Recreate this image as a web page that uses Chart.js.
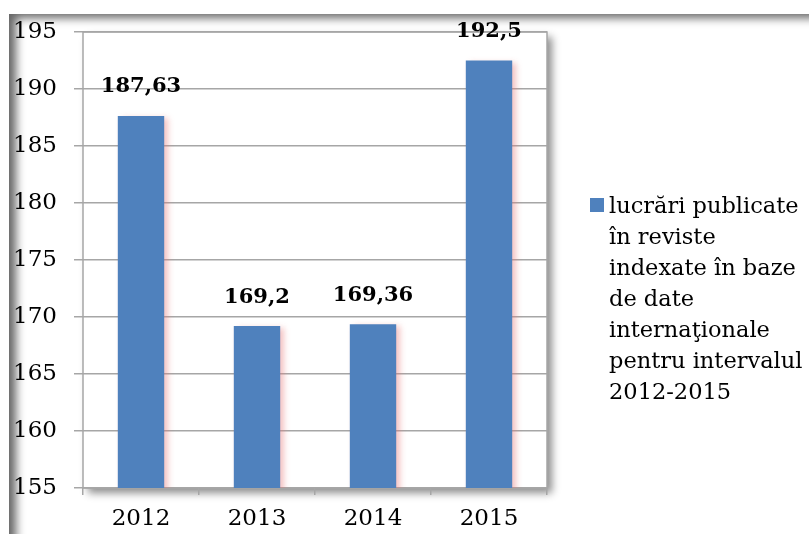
<!DOCTYPE html>
<html>
<head>
<meta charset="utf-8">
<script src="https://cdn.jsdelivr.net/npm/chart.js@4.4.0/dist/chart.umd.min.js"></script>
<style>
    html, body { margin: 0; padding: 0; background: #fff; }
    #wrap { position: relative; width: 809px; height: 534px; overflow: hidden; }
    #frame {
        position: absolute; left: 9px; top: 14px; width: 820px; height: 540px;
        box-shadow: inset 10px 7px 10px -3px rgba(0, 0, 0, 0.6);
        pointer-events: none;
    }
    canvas { position: absolute; left: 0; top: 0; }
    #legend {
        position: absolute; left: 590px; top: 190px;
        font-family: "DejaVu Serif", serif; font-size: 22.5px; line-height: 31px; color: #000;
    }
    #legend .box {
        position: absolute; left: 0; top: 8px; width: 14px; height: 14px; background: #4F81BD;
    }
    #legend .txt { margin-left: 19px; white-space: nowrap; }
</style>
</head>
<body>
<div id="wrap">
    <div id="frame"></div>
    <canvas id="chart" width="809" height="534"></canvas>
    <div id="legend"><span class="box"></span><div class="txt">lucrări publicate<br>în reviste<br>indexate în baze<br>de date<br>internaţionale<br>pentru intervalul<br>2012-2015</div></div>
</div>
<script>
const years = ['2012', '2013', '2014', '2015'];
const values = [187.63, 169.2, 169.36, 192.5];
const valueLabels = ['187,63', '169,2', '169,36', '192,5'];
const seriesName = 'lucrări publicate în reviste indexate în baze de date internaţionale pentru intervalul 2012-2015';

// white plot area with a soft grey shadow
const plotShadow = {
    id: 'plotShadow',
    beforeDraw(chart) {
        const { ctx, chartArea: a } = chart;
        ctx.save();
        ctx.shadowColor = 'rgba(0,0,0,0.45)';
        ctx.shadowBlur = 8;
        ctx.shadowOffsetX = 5;
        ctx.shadowOffsetY = 5;
        ctx.fillStyle = '#fff';
        ctx.fillRect(a.left, a.top, a.right - a.left, a.bottom - a.top);
        ctx.restore();
        ctx.save();
        ctx.strokeStyle = '#a6a6a6';
        ctx.lineWidth = 1.5;
        ctx.strokeRect(a.left, a.top, a.right - a.left, a.bottom - a.top);
        ctx.restore();
    }
};

// faint reddish shadow behind bars
const barShadow = {
    id: 'barShadow',
    beforeDatasetDraw(chart) {
        const ctx = chart.ctx;
        ctx.save();
        ctx.shadowColor = 'rgba(230,120,120,0.45)';
        ctx.shadowBlur = 6;
        ctx.shadowOffsetX = 4;
        ctx.shadowOffsetY = 2;
    },
    afterDatasetDraw(chart) {
        chart.ctx.restore();
    }
};

const valueLabelsPlugin = {
    id: 'valueLabels',
    afterDatasetsDraw(chart) {
        const ctx = chart.ctx;
        const meta = chart.getDatasetMeta(0);
        ctx.save();
        ctx.font = 'bold 21px "DejaVu Serif"';
        ctx.fillStyle = '#000';
        ctx.textAlign = 'center';
        ctx.textBaseline = 'middle';
        meta.data.forEach((bar, i) => {
            ctx.fillText(valueLabels[i], bar.x, bar.y - 29);
        });
        ctx.restore();
    }
};

new Chart(document.getElementById('chart'), {
    type: 'bar',
    data: {
        labels: years,
        datasets: [{
            label: seriesName,
            data: values,
            backgroundColor: '#4F81BD',
            borderWidth: 0,
            categoryPercentage: 1,
            barPercentage: 0.4
        }]
    },
    options: {
        responsive: false,
        animation: false,
        layout: { padding: { left: 0, top: 32, right: 262, bottom: 0 } },
        plugins: {
            legend: { display: false },
            tooltip: { enabled: false }
        },
        scales: {
            y: {
                min: 155,
                max: 195,
                afterFit: s => { s.width = 83; },
                border: { display: false },
                grid: { color: '#a6a6a6', lineWidth: 1.5, tickLength: 9 },
                ticks: {
                    stepSize: 5,
                    padding: 17,
                    color: '#000',
                    font: { family: 'DejaVu Serif', size: 23 }
                }
            },
            x: {
                afterFit: s => { s.height = 46; },
                border: { display: false },
                grid: { drawOnChartArea: false, color: '#a6a6a6', lineWidth: 1.5, tickLength: 7, offset: true },
                ticks: {
                    padding: 10,
                    color: '#000',
                    font: { family: 'DejaVu Serif', size: 23 }
                }
            }
        }
    },
    plugins: [plotShadow, barShadow, valueLabelsPlugin]
});
</script>
</body>
</html>
